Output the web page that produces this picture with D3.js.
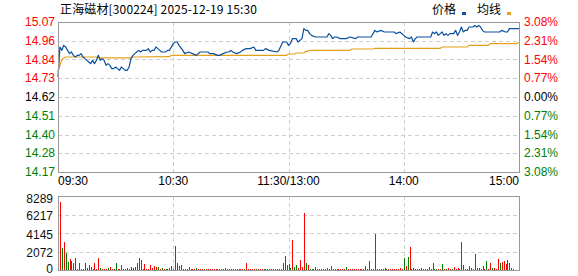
<!DOCTYPE html>
<html>
<head>
<meta charset="utf-8">
<script src="https://cdn.jsdelivr.net/npm/d3@7"></script>
<style>
  html, body { margin: 0; padding: 0; background: #fff; }
  svg { display: block; font-family: "Liberation Sans", Arial, sans-serif; }
</style>
</head>
<body>
<svg id="chart" width="578" height="276"></svg>
<script>
const stockTitle = "正海磁材[300224] 2025-12-19 15:30";
const preClose = 14.62;
const priceMax = 15.07;
const priceMin = 14.17;
const priceTickLabels = ["15.07", "14.96", "14.84", "14.73", "14.62", "14.51", "14.40", "14.28", "14.17"];
const pctTickLabels = ["3.08%", "2.31%", "1.54%", "0.77%", "0.00%", "0.77%", "1.54%", "2.31%", "3.08%"];
const timeLabels = ["09:30", "10:30", "11:30/13:00", "14:00", "15:00"];
const timeMinutes = [0, 60, 120, 180, 240];
const volumeMax = 8289;
const volumeTickLabels = ["8289", "6217", "4145", "2072", "0"];
const legendNames = ["价格", "均线"];

// [minute index from 09:30, price]
const priceSeries = [
  [0, 14.74], [1, 14.92], [2, 14.90], [3, 14.93], [4, 14.92], [5, 14.90], [6, 14.88], [7, 14.89],
  [8, 14.87], [9, 14.86], [10, 14.87], [11, 14.87], [12, 14.88], [13, 14.86], [14, 14.85], [15, 14.84],
  [16, 14.83], [17, 14.82], [18, 14.84], [19, 14.82], [20, 14.84], [21, 14.87], [22, 14.84], [23, 14.85],
  [24, 14.84], [25, 14.81], [26, 14.82], [27, 14.81], [28, 14.79], [29, 14.79], [30, 14.80], [31, 14.79],
  [32, 14.78], [33, 14.80], [34, 14.79], [35, 14.78], [36, 14.78], [37, 14.80], [38, 14.85], [39, 14.87],
  [40, 14.88], [41, 14.89], [42, 14.90], [43, 14.89], [44, 14.90], [45, 14.90], [46, 14.90], [47, 14.91],
  [48, 14.89], [49, 14.90], [50, 14.90], [51, 14.92], [52, 14.91], [53, 14.90], [54, 14.89], [55, 14.89],
  [56, 14.89], [57, 14.90], [58, 14.90], [60, 14.94], [61, 14.95], [62, 14.95], [63, 14.93], [65, 14.90],
  [66, 14.88], [68, 14.89], [70, 14.88], [72, 14.87], [74, 14.89], [76, 14.89], [78, 14.89], [79, 14.88],
  [81, 14.88], [83, 14.87], [84, 14.87], [86, 14.88], [88, 14.89], [89, 14.89], [90, 14.90], [91, 14.89],
  [93, 14.88], [95, 14.89], [96, 14.90], [98, 14.91], [100, 14.91], [102, 14.92], [103, 14.90], [105, 14.90],
  [107, 14.90], [108, 14.91], [110, 14.90], [114, 14.89], [115, 14.90], [117, 14.95], [119, 14.95], [120, 14.93],
  [121, 14.94], [122, 14.97], [124, 14.97], [125, 14.95], [127, 14.97], [128, 15.03], [129, 15.02], [130, 15.02],
  [131, 15.00], [132, 14.99], [134, 14.98], [136, 14.98], [140, 14.98], [141, 15.00], [142, 14.99], [143, 14.97],
  [144, 14.98], [145, 14.98], [147, 14.97], [150, 14.97], [152, 14.98], [155, 14.97], [156, 14.98], [163, 14.98],
  [165, 15.02], [166, 15.01], [168, 15.02], [170, 15.01], [175, 15.01], [176, 15.00], [178, 15.01], [180, 14.99],
  [181, 14.98], [183, 14.97], [184, 14.98], [185, 14.95], [186, 14.97], [187, 14.98], [194, 14.98], [195, 15.01],
  [196, 15.00], [197, 15.01], [198, 14.99], [199, 15.00], [200, 15.01], [201, 14.99], [202, 15.00], [203, 14.99],
  [204, 15.00], [206, 15.00], [207, 15.02], [208, 14.99], [209, 15.01], [210, 15.04], [211, 15.01], [212, 15.02],
  [213, 15.02], [214, 15.04], [216, 15.04], [217, 15.05], [218, 15.04], [219, 15.05], [220, 15.04], [221, 15.02],
  [222, 15.01], [230, 15.01], [231, 15.02], [233, 15.01], [234, 15.01], [235, 15.03], [240, 15.03]
];

// [minute index, average price]
const avgSeries = [
  [0, 14.77], [1.5, 14.83], [2.5, 14.85], [4, 14.86], [20, 14.86], [21, 14.855], [38, 14.855], [39, 14.86],
  [58, 14.862], [59, 14.87], [119, 14.87], [120, 14.878], [123, 14.878], [124, 14.884], [128, 14.884],
  [129, 14.894], [130, 14.894], [131, 14.90], [152, 14.90], [153, 14.908], [164, 14.908], [165, 14.912],
  [199, 14.912], [200, 14.92], [213, 14.92], [214, 14.93], [224, 14.93], [225, 14.94], [239, 14.94], [240, 14.948]
];

// volume per minute, minutes 1..240
const volumes = [
  7600, 2460, 3130, 1900, 900, 1230, 1000, 780, 1340, 110, 780, 110, 110, 780, 220, 560, 335, 110, 780, 110,
  1340, 220, 110, 110, 110, 220, 335, 110, 110, 780, 110, 110, 560, 110, 110, 220, 110, 335, 220, 335,
  780, 1340, 1120, 110, 670, 110, 110, 560, 220, 450, 335, 335, 110, 220, 110, 110, 110, 220, 450, 110,
  2690, 780, 450, 560, 110, 110, 110, 335, 110, 110, 110, 220, 110, 110, 110, 110, 110, 110, 110, 110,
  110, 110, 110, 110, 110, 110, 220, 110, 110, 110, 110, 110, 110, 110, 110, 110, 110, 780, 110, 110,
  110, 110, 110, 110, 110, 110, 110, 110, 110, 110, 110, 110, 110, 110, 110, 110, 780, 1570, 560, 670,
  220, 3360, 335, 560, 220, 1120, 335, 6380, 780, 560, 110, 110, 110, 335, 110, 110, 110, 110, 110, 220,
  110, 450, 110, 110, 110, 110, 110, 110, 110, 335, 110, 110, 110, 110, 110, 110, 110, 110, 110, 450,
  110, 1000, 110, 110, 4030, 110, 110, 110, 110, 220, 110, 110, 110, 110, 110, 110, 110, 220, 110, 1340,
  450, 1450, 2570, 110, 220, 110, 110, 110, 220, 110, 110, 110, 335, 110, 780, 110, 110, 110, 110, 670,
  110, 110, 220, 110, 110, 335, 110, 220, 110, 3130, 560, 110, 110, 450, 220, 110, 1790, 220, 220, 110,
  450, 110, 1000, 110, 780, 220, 220, 110, 1230, 780, 900, 1000, 670, 1120, 780, 220, 110, 0, 0, 1680
];
// 1 = up minute (red), 0 = down minute (green)
const volumeUp =
  "10100100111000001011" + "10111011001111101111" + "01111111111010101111" + "11100110111011101111" +
  "11101110110111110111" + "11011101110111011111" + "01001111010000111111" + "10111111101111111111" +
  "10011001110111111110" + "10110111111110100110" + "10110111110111111011" + "01011011101111111111";

const RED = "#ff0000";
const GREEN = "#008000";
const DARK = "#000000";
const PRICE_COLOR = "#0b4f9f";
const AVG_COLOR = "#e3a11a";
const GRID = "#cfcfcf";
const FRAME = "#999999";

const left = 58, right = 519;
const priceTop = 22, priceBottom = 172;
const volTop = 196, volBottom = 270;

const svg = d3.select("#chart");

const x = d3.scaleLinear().domain([0, 240]).range([left, right]);
const y = d3.scaleLinear().domain([priceMin, priceMax]).range([priceBottom, priceTop]);
const vy = d3.scaleLinear().domain([0, volumeMax]).range([volBottom, volTop]);

const crisp = (v) => Math.round(v) + 0.5;
const tickColor = (i, n) => (i < (n - 1) / 2 ? RED : i > (n - 1) / 2 ? GREEN : DARK);

// title + legend
svg.append("text")
  .attr("x", 60).attr("y", 14)
  .attr("font-family", "'Noto Sans CJK SC', sans-serif")
  .attr("font-size", 12)
  .attr("textLength", 197)
  .attr("lengthAdjust", "spacing")
  .attr("fill", "#000")
  .text(stockTitle);

const legend = svg.append("g").attr("font-family", "'Noto Sans CJK SC', sans-serif").attr("font-size", 12);
legend.append("text").attr("x", 432).attr("y", 14).text(legendNames[0]);
legend.append("rect").attr("x", 462).attr("y", 12).attr("width", 4).attr("height", 3).attr("fill", PRICE_COLOR);
legend.append("text").attr("x", 477).attr("y", 14).text(legendNames[1]);
legend.append("rect").attr("x", 507).attr("y", 12).attr("width", 4).attr("height", 3).attr("fill", AVG_COLOR);

// ---- price panel ----
const priceStep = (priceMax - priceMin) / (priceTickLabels.length - 1);
const priceTicks = priceTickLabels.map((d, i) => priceMax - i * priceStep);

const grid = svg.append("g")
  .attr("stroke", GRID)
  .attr("stroke-dasharray", "4,3")
  .attr("shape-rendering", "crispEdges");

grid.selectAll("line.h")
  .data(priceTicks.slice(1, -1))
  .join("line")
  .attr("class", "h")
  .attr("x1", left).attr("x2", right)
  .attr("y1", (d) => crisp(y(d))).attr("y2", (d) => crisp(y(d)));

grid.selectAll("line.v")
  .data(timeMinutes.slice(1, -1))
  .join("line")
  .attr("class", "v")
  .attr("x1", (d) => crisp(x(d))).attr("x2", (d) => crisp(x(d)))
  .attr("y1", priceTop).attr("y2", priceBottom);

svg.append("g")
  .attr("font-size", 12)
  .selectAll("text")
  .data(priceTickLabels)
  .join("text")
  .attr("x", 55)
  .attr("y", (d, i) => y(priceTicks[i]))
  .attr("dy", "0.35em")
  .attr("text-anchor", "end")
  .attr("fill", (d, i) => tickColor(i, priceTickLabels.length))
  .text((d) => d);

svg.append("g")
  .attr("font-size", 12)
  .selectAll("text")
  .data(pctTickLabels)
  .join("text")
  .attr("x", 524)
  .attr("y", (d, i) => y(priceTicks[i]))
  .attr("dy", "0.35em")
  .attr("fill", (d, i) => tickColor(i, pctTickLabels.length))
  .text((d) => d);

const line = d3.line().x((d) => x(d[0])).y((d) => y(d[1]));

svg.append("path")
  .datum(avgSeries)
  .attr("d", line)
  .attr("fill", "none")
  .attr("stroke", AVG_COLOR)
  .attr("stroke-width", 1.2);

svg.append("path")
  .datum(priceSeries)
  .attr("d", line)
  .attr("fill", "none")
  .attr("stroke", PRICE_COLOR)
  .attr("stroke-width", 1.2)
  .attr("stroke-linejoin", "round");

svg.append("rect")
  .attr("x", left + 0.5).attr("y", priceTop + 0.5)
  .attr("width", right - left).attr("height", priceBottom - priceTop)
  .attr("fill", "none")
  .attr("stroke", FRAME);

// time labels
svg.append("g")
  .attr("font-size", 12)
  .selectAll("text")
  .data(timeLabels)
  .join("text")
  .attr("x", (d, i) => x(timeMinutes[i]))
  .attr("y", 185)
  .attr("text-anchor", (d, i) => (i === 0 ? "start" : i === timeLabels.length - 1 ? "end" : "middle"))
  .attr("fill", "#000")
  .text((d) => d);

// ---- volume panel ----
const volStep = volumeMax / (volumeTickLabels.length - 1);
const volTicks = volumeTickLabels.map((d, i) => volumeMax - i * volStep);

grid.selectAll("line.vh")
  .data(volTicks.slice(1, -1))
  .join("line")
  .attr("class", "vh")
  .attr("x1", left).attr("x2", right)
  .attr("y1", (d) => crisp(vy(d))).attr("y2", (d) => crisp(vy(d)));

grid.selectAll("line.vv")
  .data(timeMinutes.slice(1, -1))
  .join("line")
  .attr("class", "vv")
  .attr("x1", (d) => crisp(x(d))).attr("x2", (d) => crisp(x(d)))
  .attr("y1", volTop).attr("y2", volBottom);

svg.append("g")
  .attr("shape-rendering", "crispEdges")
  .selectAll("rect")
  .data(volumes)
  .join("rect")
  .attr("x", (d, i) => Math.round(x(i + 1)))
  .attr("y", (d) => vy(d))
  .attr("width", 1)
  .attr("height", (d) => volBottom - vy(d))
  .attr("fill", (d, i) => (volumeUp[i] === "1" ? RED : GREEN));

svg.append("rect")
  .attr("x", left + 0.5).attr("y", volTop + 0.5)
  .attr("width", right - left).attr("height", volBottom - volTop)
  .attr("fill", "none")
  .attr("stroke", FRAME);

const volLabelShift = [3, 1.5, 1.5, 1.5, -1.5];
svg.append("g")
  .attr("font-size", 12)
  .selectAll("text")
  .data(volumeTickLabels)
  .join("text")
  .attr("x", 53)
  .attr("y", (d, i) => vy(volTicks[i]) + volLabelShift[i])
  .attr("dy", "0.35em")
  .attr("text-anchor", "end")
  .attr("fill", "#111")
  .text((d) => d);
</script>
</body>
</html>
